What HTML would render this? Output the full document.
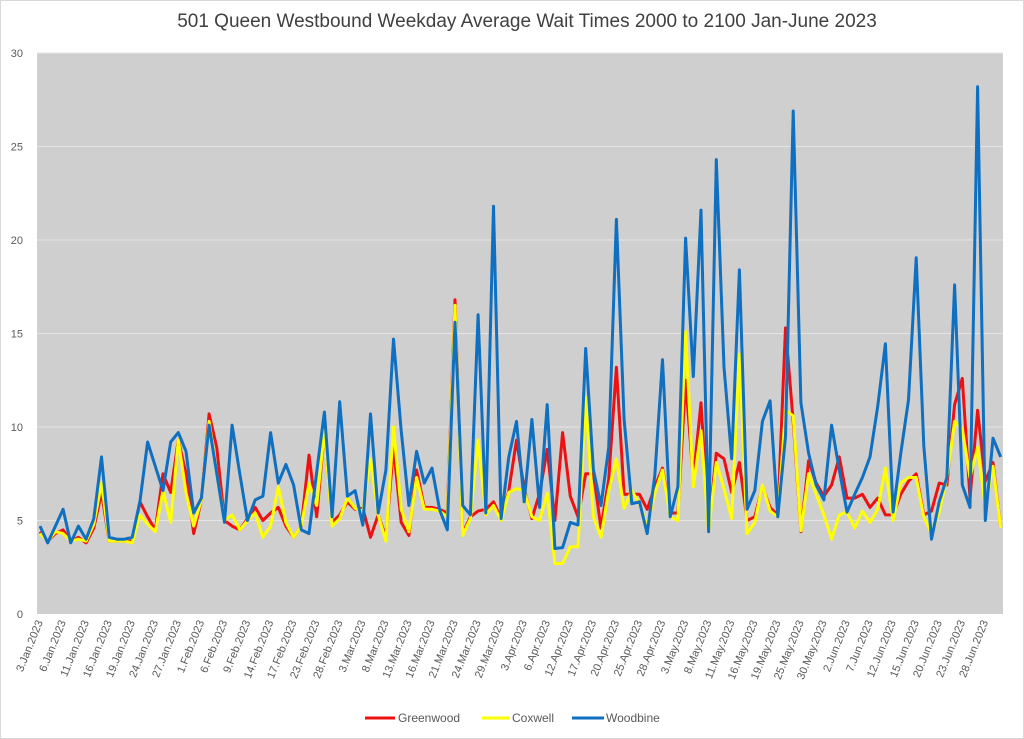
<!DOCTYPE html>
<html><head><meta charset="utf-8"><style>
html,body{margin:0;padding:0;background:#fff;}
svg{display:block;font-family:"Liberation Sans",sans-serif;}
</style></head><body>
<svg id="chart" width="1024" height="739" viewBox="0 0 1024 739">
<rect x="0.5" y="0.5" width="1023" height="738" fill="#fff" stroke="#d9d9d9"/>
<text x="527" y="27" text-anchor="middle" font-size="19" fill="#404040">501 Queen Westbound Weekday Average Wait Times 2000 to 2100 Jan-June 2023</text>
<rect x="37" y="53" width="966" height="561" fill="#d0cfcf"/>
<g id="grid"></g><g id="yt"></g><g id="xt"></g><g id="series"></g>
<g>
<line x1="365" y1="718" x2="395" y2="718" stroke="#ee1111" stroke-width="3"/>
<text x="398" y="722" font-size="12" fill="#595959">Greenwood</text>
<line x1="482" y1="718" x2="509" y2="718" stroke="#ffff00" stroke-width="3"/>
<text x="512" y="722" font-size="12" fill="#595959">Coxwell</text>
<line x1="572" y1="718" x2="604" y2="718" stroke="#0f6fc0" stroke-width="3"/>
<text x="606" y="722" font-size="12" fill="#595959">Woodbine</text>
</g>
</svg>
<script>
const yTicks=[0,5,10,15,20,25,30];
const xLabels=["3.Jan.2023","6.Jan.2023","11.Jan.2023","16.Jan.2023","19.Jan.2023","24.Jan.2023","27.Jan.2023","1.Feb.2023","6.Feb.2023","9.Feb.2023","14.Feb.2023","17.Feb.2023","23.Feb.2023","28.Feb.2023","3.Mar.2023","8.Mar.2023","13.Mar.2023","16.Mar.2023","21.Mar.2023","24.Mar.2023","29.Mar.2023","3.Apr.2023","6.Apr.2023","12.Apr.2023","17.Apr.2023","20.Apr.2023","25.Apr.2023","28.Apr.2023","3.May.2023","8.May.2023","11.May.2023","16.May.2023","19.May.2023","25.May.2023","30.May.2023","2.Jun.2023","7.Jun.2023","12.Jun.2023","15.Jun.2023","20.Jun.2023","23.Jun.2023","28.Jun.2023"];
const greenwood=[4.4,3.9,4.3,4.5,3.9,4.1,3.8,4.6,6.5,3.9,3.9,3.9,3.9,6.0,5.2,4.5,7.5,6.5,9.3,7.5,4.3,6.1,10.7,8.9,5.0,4.7,4.5,5.1,5.7,5.0,5.4,5.7,
4.7,4.1,4.7,8.5,5.2,9.8,4.9,5.3,6.0,5.6,5.65,4.1,5.3,4.1,8.9,4.9,4.2,7.7,5.7,5.7,5.6,5.4,16.8,4.3,5.2,5.5,5.6,6.0,5.1,6.6,9.3,
6.7,5.1,6.45,8.8,5.0,9.7,6.3,5.2,7.5,7.5,4.6,7.2,13.2,6.4,6.4,6.4,5.6,6.8,7.8,5.4,5.4,12.5,7.2,11.3,4.6,8.6,8.3,6.5,8.1,5.0,
5.2,6.8,5.7,5.3,15.3,10.3,4.4,8.2,7.0,6.3,6.9,8.4,6.2,6.2,6.4,5.7,6.2,5.3,5.3,6.4,7.1,7.5,5.3,5.5,7.0,6.9,11.2,12.6,6.2,10.9,7.1,8.1,4.6];
const coxwell=[4.3,3.9,4.4,4.3,3.9,4.0,3.9,4.8,7.0,3.9,3.9,3.9,3.8,5.3,4.8,4.4,6.6,4.9,9.3,6.5,4.7,6.1,10.3,7.5,5.0,5.3,4.5,5.0,5.4,4.1,4.7,6.8,
4.9,4.1,4.7,7.0,5.8,9.8,4.7,5.1,6.2,5.65,5.5,8.3,5.3,3.9,10.0,5.6,4.4,7.3,5.6,5.6,5.5,5.2,16.5,4.2,5.1,9.3,5.3,5.8,5.0,6.5,6.7,
6.6,5.2,5.0,6.45,2.7,2.7,3.6,3.6,11.6,5.2,4.1,6.6,8.3,5.65,6.6,5.9,4.7,6.45,7.7,5.2,5.0,15.1,6.8,9.8,4.4,8.1,6.7,5.1,13.9,4.3,
4.9,6.9,5.5,5.2,10.9,10.6,4.45,7.5,6.4,5.3,4.0,5.3,5.45,4.6,5.5,4.9,5.6,7.8,5.0,7.0,7.3,7.3,5.2,4.3,5.45,7.3,10.3,9.9,7.3,8.9,5.7,7.9,4.6];
const woodbine=[4.7,3.8,4.7,5.6,3.8,4.7,4.0,5.1,8.4,4.1,4.0,4.0,4.1,6.0,9.2,7.9,6.6,9.2,9.7,8.7,5.4,6.2,10.1,7.5,4.9,10.1,7.5,5.0,6.1,6.3,9.7,7.0,
8.0,6.9,4.5,4.3,7.6,10.8,5.2,11.35,6.3,6.6,4.75,10.7,5.4,7.7,14.7,9.8,5.8,8.7,7.0,7.8,5.56,4.5,15.6,5.8,5.3,16.0,5.4,21.8,5.1,8.4,10.3,
6.0,10.4,5.7,11.2,3.5,3.55,4.9,4.76,14.2,7.7,5.8,8.9,21.1,10.4,5.9,6.0,4.3,7.4,13.6,5.2,6.8,20.1,12.7,21.6,4.4,24.3,13.2,8.3,18.4,5.6,
6.6,10.3,11.4,5.2,9.5,26.9,11.3,8.6,6.9,6.1,10.1,7.7,5.45,6.4,7.3,8.4,11.1,14.45,5.45,8.6,11.45,19.05,9.0,4.0,6.0,7.3,17.6,6.9,5.7,28.2,5.0,9.4,8.4];

const NS="http://www.w3.org/2000/svg";
const X0=40,X1=1000.7,Y0=614,Y1=53,YMAX=30;
const n=woodbine.length;
function xs(i){return X0+i*(X1-X0)/(n-1);}
function ys(v){return Y0-(v/YMAX)*(Y0-Y1);}
function mk(t,a){const e=document.createElementNS(NS,t);for(const k in a)e.setAttribute(k,a[k]);return e;}
const grid=document.getElementById('grid'),yt=document.getElementById('yt'),xt=document.getElementById('xt'),ser=document.getElementById('series');
yTicks.forEach(v=>{
  if(v>0){const g=mk('line',{x1:37,x2:1003,y1:ys(v),y2:ys(v),stroke:'#e4e4e4','stroke-width':1});
  
  
  grid.appendChild(g);}
  const t=mk('text',{x:23,y:ys(v)+4,'text-anchor':'end','font-size':11,fill:'#595959'});
  
  
  t.textContent=v;yt.appendChild(t);
});
xLabels.forEach((s,k)=>{
  const x=xs(k*3)+3,y=622;
  const t=mk('text',{x:x,y:y,'text-anchor':'end','font-size':11,fill:'#595959',transform:'rotate(-68 '+x+' '+y+')'});
  
  
  t.textContent=s;xt.appendChild(t);
});
[[greenwood,'#ee1111','greenwood-line'],[coxwell,'#ffff00','coxwell-line'],[woodbine,'#0f6fc0','woodbine-line']].forEach(([d,c,nm])=>{
  const p=mk('polyline',{points:d.map((v,i)=>xs(i).toFixed(1)+','+ys(v).toFixed(1)).join(' '),fill:'none',stroke:c,'stroke-width':3,'stroke-linejoin':'round'});
  
  
  ser.appendChild(p);
});
</script>
</body></html>
